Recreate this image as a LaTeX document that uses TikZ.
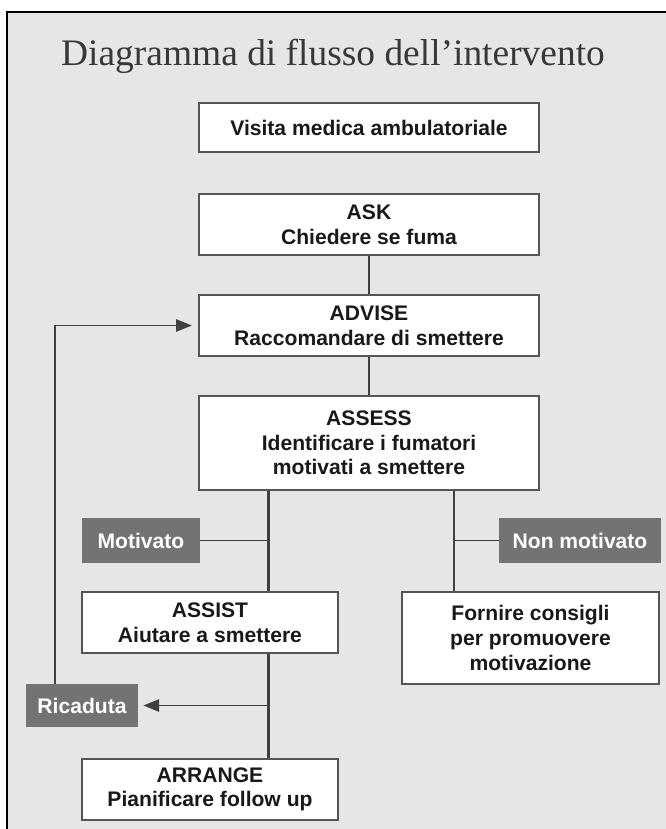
\documentclass[tikz,border=0pt]{standalone}
\usepackage{fontspec}
\setmainfont{Liberation Sans}
\newfontfamily\titlefont{Liberation Serif}
\usetikzlibrary{arrows.meta}

\definecolor{sfondo}{HTML}{E6E6E6}
\definecolor{bordo}{HTML}{555555}
\definecolor{linea}{HTML}{404040}
\definecolor{etich}{HTML}{737373}

\begin{document}
\begin{tikzpicture}[
  box/.style={draw=bordo, line width=1.3pt, fill=white, align=center, inner sep=0pt,
    text=black!90, font=\fontsize{12}{14}\selectfont\bfseries},
  tag/.style={fill=etich, text=white, inner sep=0pt, minimum height=0.9cm,
    font=\fontsize{12}{14}\selectfont\bfseries},
  link/.style={draw=linea, line width=1.6pt},
  ramo/.style={draw=linea, line width=1.1pt},
  freccia/.style={-{Triangle[length=9pt, width=7pt]}}]
\useasboundingbox (0,0) rectangle (13.32,-16.58);
\fill[sfondo] (0.14,-0.24) rectangle (13.32,-16.58);
\draw[line width=1pt] (0.14,-16.58) -- (0.14,-0.24) -- (13.32,-0.24);
\node[anchor=base, text=black!78, font=\titlefont\fontsize{21.3}{25}\selectfont](tit) at (6.66,-1.32) {Diagramma di flusso dell’intervento};
\node[box, minimum width=6.8cm, minimum height=0.98cm](visita) at (7.38,-2.55) {Visita medica ambulatoriale};
\node[box, minimum width=6.8cm, minimum height=1.22cm](ask) at (7.38,-4.49) {ASK\\Chiedere se fuma};
\node[box, minimum width=6.8cm, minimum height=1.22cm](advise) at (7.38,-6.51) {ADVISE\\Raccomandare di smettere};
\node[box, minimum width=6.8cm, minimum height=1.88cm](assess) at (7.38,-8.86) {ASSESS\\Identificare i fumatori\\motivati a smettere};
\node[tag, minimum width=2.36cm](motiv) at (2.82,-10.81) {Motivato};
\node[tag, minimum width=3.24cm](nonmotiv) at (11.6,-10.81) {Non motivato};
\node[box, minimum width=5.12cm, minimum height=1.22cm](assist) at (4.2,-12.45) {ASSIST\\Aiutare a smettere};
\node[box, minimum width=5.14cm, minimum height=1.84cm](fornire) at (10.61,-12.76) {Fornire consigli\\per promuovere\\motivazione};
\node[tag, minimum width=2.24cm, minimum height=0.86cm](ricad) at (1.64,-14.11) {Ricaduta};
\node[box, minimum width=5.12cm, minimum height=1.22cm](arrange) at (4.2,-15.79) {ARRANGE\\Pianificare follow up};
\coordinate (sx) at (5.37,0);
\coordinate (dx) at (9.08,0);
\coordinate (giro) at (1.1,0);
\draw[link] (ask)--(advise);
\draw[link] (advise)--(assess);
\draw[link] (assess.south -| sx)--(assist.north -| sx);
\draw[link] (assess.south -| dx)--(fornire.north -| dx);
\draw[ramo] (motiv)--(motiv -| sx);
\draw[ramo] (nonmotiv)--(nonmotiv -| dx);
\draw[link] (assist.south -| sx)--(arrange.north -| sx);
\draw[ramo, freccia, shorten >=0.1cm] (ricad -| sx)--(ricad.east);
\draw[ramo, freccia, shorten >=0.12cm] (ricad.north -| giro) |- (advise.west);
\end{tikzpicture}
\end{document}
